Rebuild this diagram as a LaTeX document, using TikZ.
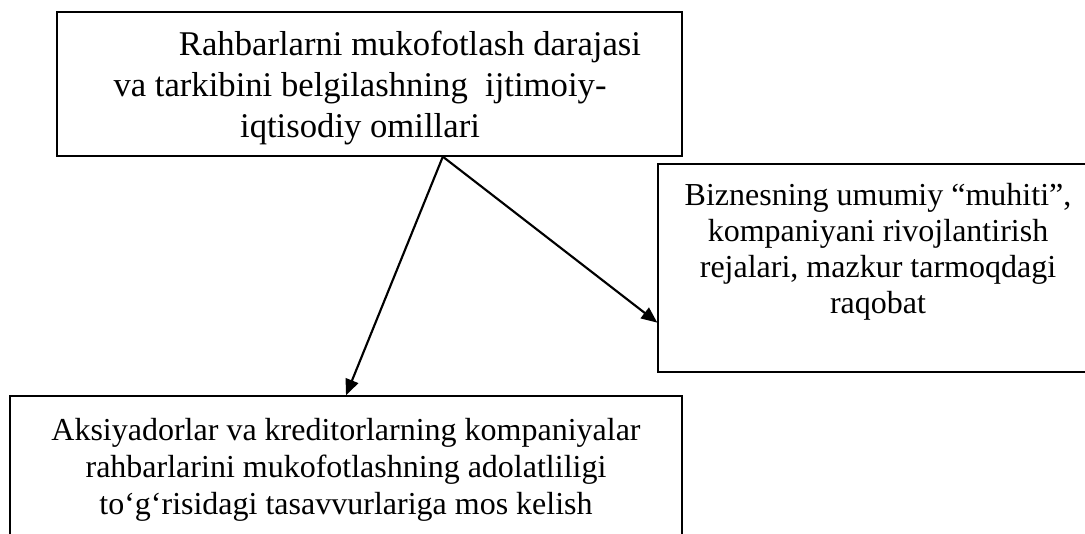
\documentclass[tikz,border=0pt]{standalone}
\usepackage{fontspec}
\setmainfont{Liberation Serif}
\usepackage{tikz}
\usetikzlibrary{arrows.meta, positioning}

\begin{document}
\begin{tikzpicture}[x=0.75pt, y=-0.75pt,
    factorbox/.style={draw=black, line width=1pt, inner sep=0pt},
    boxtext/.style={align=center, inner sep=0pt, anchor=north},
    link/.style={-{Triangle[length=12pt, width=10pt]}, line width=1.6pt}]
  \useasboundingbox (0,0) rectangle (1085,533);

  % boxes
  \node[factorbox, minimum width=468.75pt, minimum height=108pt] (omillar) at (369.5,84) {};
  \node[factorbox, minimum width=330pt, minimum height=156pt] (muhit) at (878,268) {};
  \node[factorbox, minimum width=504pt, minimum height=123pt] (adolat) at (346,478) {};

  % texts
  \node[boxtext, font=\fontsize{26}{30.75}\selectfont] (omillartxt) at (360,31) {
    \hspace*{75pt}Rahbarlarni mukofotlash darajasi\\
    va tarkibini belgilashning \ ijtimoiy-\\
    iqtisodiy omillari};
  \node[boxtext, font=\fontsize{24}{27}\selectfont] (muhittxt) at (878,183) {
    Biznesning umumiy “muhiti”,\\
    kompaniyani rivojlantirish\\
    rejalari, mazkur tarmoqdagi\\
    raqobat};
  \node[boxtext, font=\fontsize{24}{27.75}\selectfont] (adolattxt) at (346,418) {
    Aksiyadorlar va kreditorlarning kompaniyalar\\
    rahbarlarini mukofotlashning adolatliligi\\
    to‘g‘risidagi tasavvurlariga mos kelish};

  % arrows
  \coordinate (fork) at ([xshift=55pt]omillar.south);
  \coordinate (muhitin) at ([yshift=-41pt]muhit.west);
  \draw[link] (fork) -- (adolat.north);
  \draw[link] (fork) -- (muhitin);
\end{tikzpicture}
\end{document}
